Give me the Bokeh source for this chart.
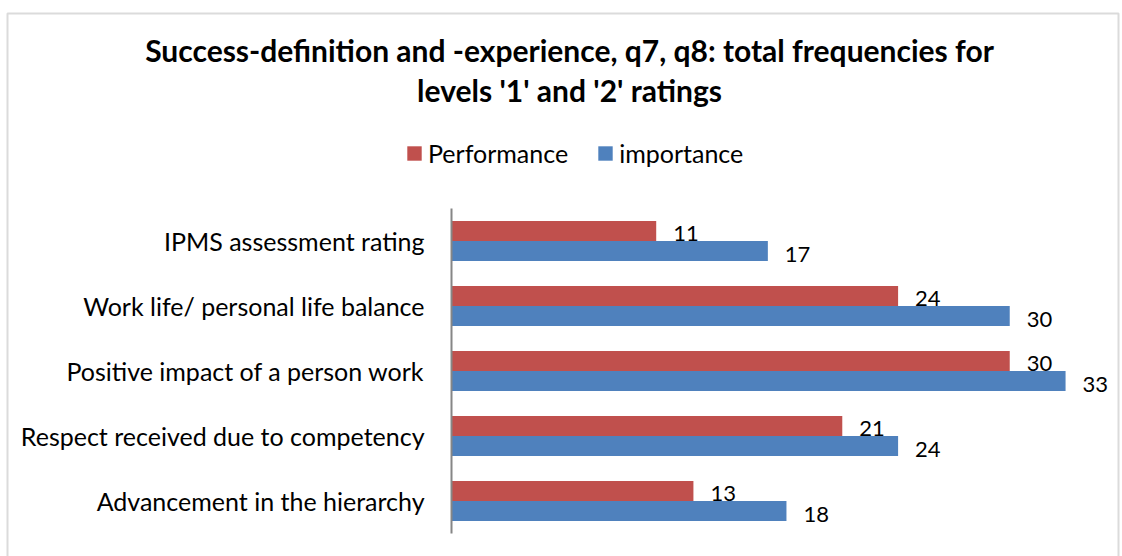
from bokeh.plotting import figure
from bokeh.models import (Range1d, ColumnDataSource, Legend, LegendItem, Label,
                          BoxAnnotation, FixedTicker)
from bokeh.core.properties import value
from bokeh.embed import file_html
from bokeh.resources import INLINE

categories = ["IPMS assessment rating",
              "Work life/ personal life balance",
              "Positive impact of a person work",
              "Respect received due to competency",
              "Advancement in the hierarchy"]
performance = [11, 24, 30, 21, 13]
importance = [17, 30, 33, 24, 18]
series_names = ["Performance", "importance"]
title_lines = ["Success-definition and -experience, q7, q8: total frequencies for",
               "levels '1' and '2' ratings"]

RED = "#C0504D"
BLUE = "#4F81BD"
FONT = "Lato"

W, H = 1122, 556
n = len(categories)
# category slot centres (top category first), one unit per category
pos = [n - i - 0.5 for i in range(n)]
off = 0.154
bh = 0.308

src = ColumnDataSource(dict(
    pos=pos,
    perf_y=[v + off for v in pos],
    imp_y=[v - off for v in pos],
    perf=performance,
    imp=importance,
    perf_txt=[str(v) for v in performance],
    imp_txt=[str(v) for v in importance],
))

# the plot frame covers the whole canvas
p = figure(width=W, height=H, title=None,
           x_range=Range1d(-24.24, 36.06),
           y_range=Range1d(-0.354, 8.2),
           output_backend="svg", toolbar_location=None,
           min_border_left=0, min_border_right=0,
           min_border_top=0, min_border_bottom=0)

p.outline_line_color = None
p.xgrid.visible = False
p.ygrid.visible = False
p.xaxis.visible = False

yax = p.yaxis[0]
yax.fixed_location = 0
yax.bounds = (0, n)
yax.ticker = FixedTicker(ticks=pos)
yax.major_label_overrides = {v: c for v, c in zip(pos, categories)}
yax.axis_line_color = "#868686"
yax.axis_line_width = 2
yax.major_tick_line_color = None
yax.minor_tick_line_color = None
yax.major_tick_out = 0
yax.major_tick_in = 0
yax.major_label_standoff = 27
yax.major_label_text_font = FONT
yax.major_label_text_font_size = "25px"
yax.major_label_text_color = "#000000"

r1 = p.hbar(y="perf_y", left=0, right="perf", height=bh,
            fill_color=RED, line_color=None, source=src)
r2 = p.hbar(y="imp_y", left=0, right="imp", height=bh,
            fill_color=BLUE, line_color=None, source=src)

p.text(x="perf", y="perf_y", text="perf_txt",
       x_offset=17, y_offset=3, text_align="left", text_baseline="middle",
       text_font=value(FONT), text_font_size="22px", text_color="black", source=src)
p.text(x="imp", y="imp_y", text="imp_txt",
       x_offset=17, y_offset=3, text_align="left", text_baseline="middle",
       text_font=value(FONT), text_font_size="22px", text_color="black", source=src)

legend = Legend(items=[LegendItem(label=series_names[0], renderers=[r1]),
                       LegendItem(label=series_names[1], renderers=[r2])],
                orientation="horizontal", location=(405, H - 167.5),
                glyph_width=18, glyph_height=18, label_standoff=5, spacing=28,
                label_height=24,
                padding=0, margin=0, border_line_color=None,
                background_fill_alpha=0,
                label_text_font=FONT, label_text_font_size="25px",
                label_text_color="#000000")
p.add_layout(legend)

for txt, base in zip(title_lines, [49.5, 89.5]):
    p.add_layout(Label(x=569, y=H - base, x_units="screen", y_units="screen",
                       text=txt, text_align="center", text_baseline="alphabetic",
                       text_font=FONT, text_font_style="bold",
                       text_font_size="30px", text_color="#000000"))

p.add_layout(BoxAnnotation(left=7, right=1118, top=13, bottom=700,
                           left_units="canvas", right_units="canvas",
                           top_units="canvas", bottom_units="canvas",
                           fill_alpha=0, line_color="#898989", line_width=2))

open("out.html", "w").write(file_html(p, INLINE))
